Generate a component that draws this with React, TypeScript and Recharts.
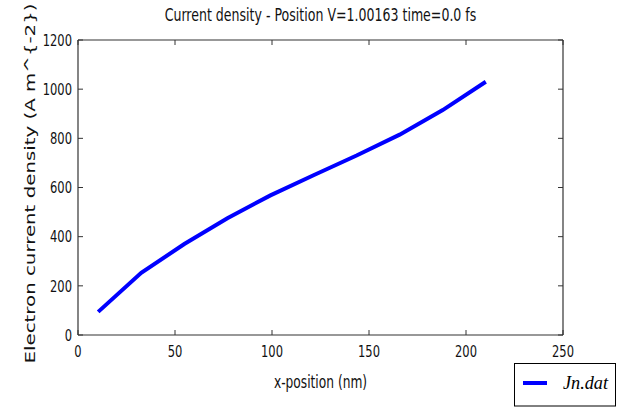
import { Label, Legend, Line, LineChart, XAxis, YAxis } from "recharts";

const positions = [10.4, 32.6, 54.8, 77, 99.2, 121.4, 143.6, 165.8, 188, 210.2];
const densities = [94, 253, 370, 475, 568, 650, 730, 815, 915, 1030];
const xTicks = [0, 50, 100, 150, 200, 250];
const yTicks = [0, 200, 400, 600, 800, 1000, 1200];

const title = "Current density - Position V=1.00163 time=0.0 fs";
const xTitle = "x-position (nm)";
const yTitle = "Electron current density (A m^{-2})";
const seriesName = "Jn.dat";

const data = positions.map((x, i) => ({ x, y: densities[i] }));

const FONT = "'DejaVu Sans', sans-serif";
const AXIS = "#333";
const TICK_LEN = 5;
const X_MARGIN = 22;
const Y_MARGIN = 6;

// ticks point inward, like matplotlib's classic style
const XTick = (props: any) => {
  const { x, y, payload } = props;
  const axisY = y - X_MARGIN;
  return (
    <g>
      <line x1={x} x2={x} y1={axisY} y2={axisY - TICK_LEN} stroke={AXIS} strokeWidth={1} />
      <g transform={`translate(${x},${y})`}>
        <text transform="scale(0.72,1)" textAnchor="middle" fontFamily={FONT} fontSize={16} fill="#111">
          {payload.value}
        </text>
      </g>
    </g>
  );
};

const YTick = (props: any) => {
  const { x, y, payload } = props;
  const axisX = x + Y_MARGIN;
  return (
    <g>
      <line x1={axisX} x2={axisX + TICK_LEN} y1={y} y2={y} stroke={AXIS} strokeWidth={1} />
      <g transform={`translate(${x},${y})`}>
        <text transform="scale(0.72,1)" textAnchor="end" dy="0.36em" fontFamily={FONT} fontSize={16} fill="#111">
          {payload.value}
        </text>
      </g>
    </g>
  );
};

const TopTick = (props: any) => {
  const { x, y } = props;
  return <line x1={x} x2={x} y1={y} y2={y + TICK_LEN} stroke={AXIS} strokeWidth={1} />;
};

const RightTick = (props: any) => {
  const { x, y } = props;
  return <line x1={x} x2={x - TICK_LEN} y1={y} y2={y} stroke={AXIS} strokeWidth={1} />;
};

const LegendBox = () => (
  <svg width={102} height={44} style={{ display: "block" }}>
    <rect x={0.5} y={0.5} width={101} height={42.5} fill="#fff" stroke="#000" strokeWidth={1} />
    <line x1={9} x2={33} y1={20} y2={20} stroke="#0000ff" strokeWidth={4} />
    <text
      x={49}
      y={26}
      textLength={45}
      lengthAdjust="spacingAndGlyphs"
      fontFamily="'Liberation Serif', serif"
      fontStyle="italic"
      fontSize={18}
      fill="#000"
    >
      {seriesName}
    </text>
  </svg>
);

export default function App() {
  return (
    <div style={{ position: "absolute", left: 0, top: 0, width: 626, height: 407, background: "#fff", overflow: "hidden" }}>
      <LineChart width={626} height={407} data={data} margin={{ top: 39, right: 62, bottom: 42, left: 28 }}>
        <XAxis
          dataKey="x"
          type="number"
          domain={[0, 250]}
          ticks={xTicks}
          height={30}
          stroke={AXIS}
          strokeWidth={1.2}
          tickLine={false}
          tickSize={0}
          tickMargin={X_MARGIN}
          tick={<XTick />}
        >
          <Label
            content={(p: any) => {
              const vb = p.viewBox;
              return (
                <g transform={`translate(${vb.x + vb.width / 2},${vb.y + 53})`}>
                  <text transform="scale(0.72,1)" textAnchor="middle" fontFamily={FONT} fontSize={17} fill="#111">
                    {xTitle}
                  </text>
                </g>
              );
            }}
          />
        </XAxis>
        <XAxis
          xAxisId="top"
          dataKey="x"
          orientation="top"
          type="number"
          domain={[0, 250]}
          ticks={xTicks}
          height={1}
          stroke={AXIS}
          strokeWidth={1.2}
          tickLine={false}
          tickSize={0}
          tickMargin={0}
          tick={<TopTick />}
        >
          <Label
            content={(p: any) => {
              const vb = p.viewBox;
              return (
                <g transform={`translate(${vb.x + vb.width / 2},${vb.y + vb.height - 19})`}>
                  <text transform="scale(0.74,1)" textAnchor="middle" fontFamily={FONT} fontSize={17} fill="#111">
                    {title}
                  </text>
                </g>
              );
            }}
          />
        </XAxis>
        <YAxis
          type="number"
          domain={[0, 1200]}
          ticks={yTicks}
          width={50}
          stroke={AXIS}
          strokeWidth={1.2}
          tickLine={false}
          tickSize={0}
          tickMargin={Y_MARGIN}
          tick={<YTick />}
        >
          <Label
            content={(p: any) => {
              const vb = p.viewBox;
              return (
                <g transform={`translate(35,${vb.y + vb.height / 2 - 4}) rotate(-90) scale(1,0.78)`}>
                  <text
                    textAnchor="middle"
                    textLength={360}
                    lengthAdjust="spacingAndGlyphs"
                    fontFamily={FONT}
                    fontSize={18}
                    fill="#111"
                  >
                    {yTitle}
                  </text>
                </g>
              );
            }}
          />
        </YAxis>
        <YAxis
          yAxisId="right"
          orientation="right"
          type="number"
          domain={[0, 1200]}
          ticks={yTicks}
          width={1}
          stroke={AXIS}
          strokeWidth={1.2}
          tickLine={false}
          tickSize={0}
          tickMargin={0}
          tick={<RightTick />}
        />
        <Legend
          layout="horizontal"
          align="center"
          verticalAlign="middle"
          width={102}
          height={44}
          wrapperStyle={{ left: 514, top: 363 }}
          content={() => <LegendBox />}
        />
        {/* hidden twin so the top and right frame axes get a scale */}
        <Line
          xAxisId="top"
          yAxisId="right"
          type="linear"
          dataKey="y"
          stroke="none"
          dot={false}
          legendType="none"
          isAnimationActive={false}
        />
        <Line
          type="linear"
          dataKey="y"
          name={seriesName}
          stroke="#0000ff"
          strokeWidth={4}
          dot={false}
          isAnimationActive={false}
        />
      </LineChart>
    </div>
  );
}
